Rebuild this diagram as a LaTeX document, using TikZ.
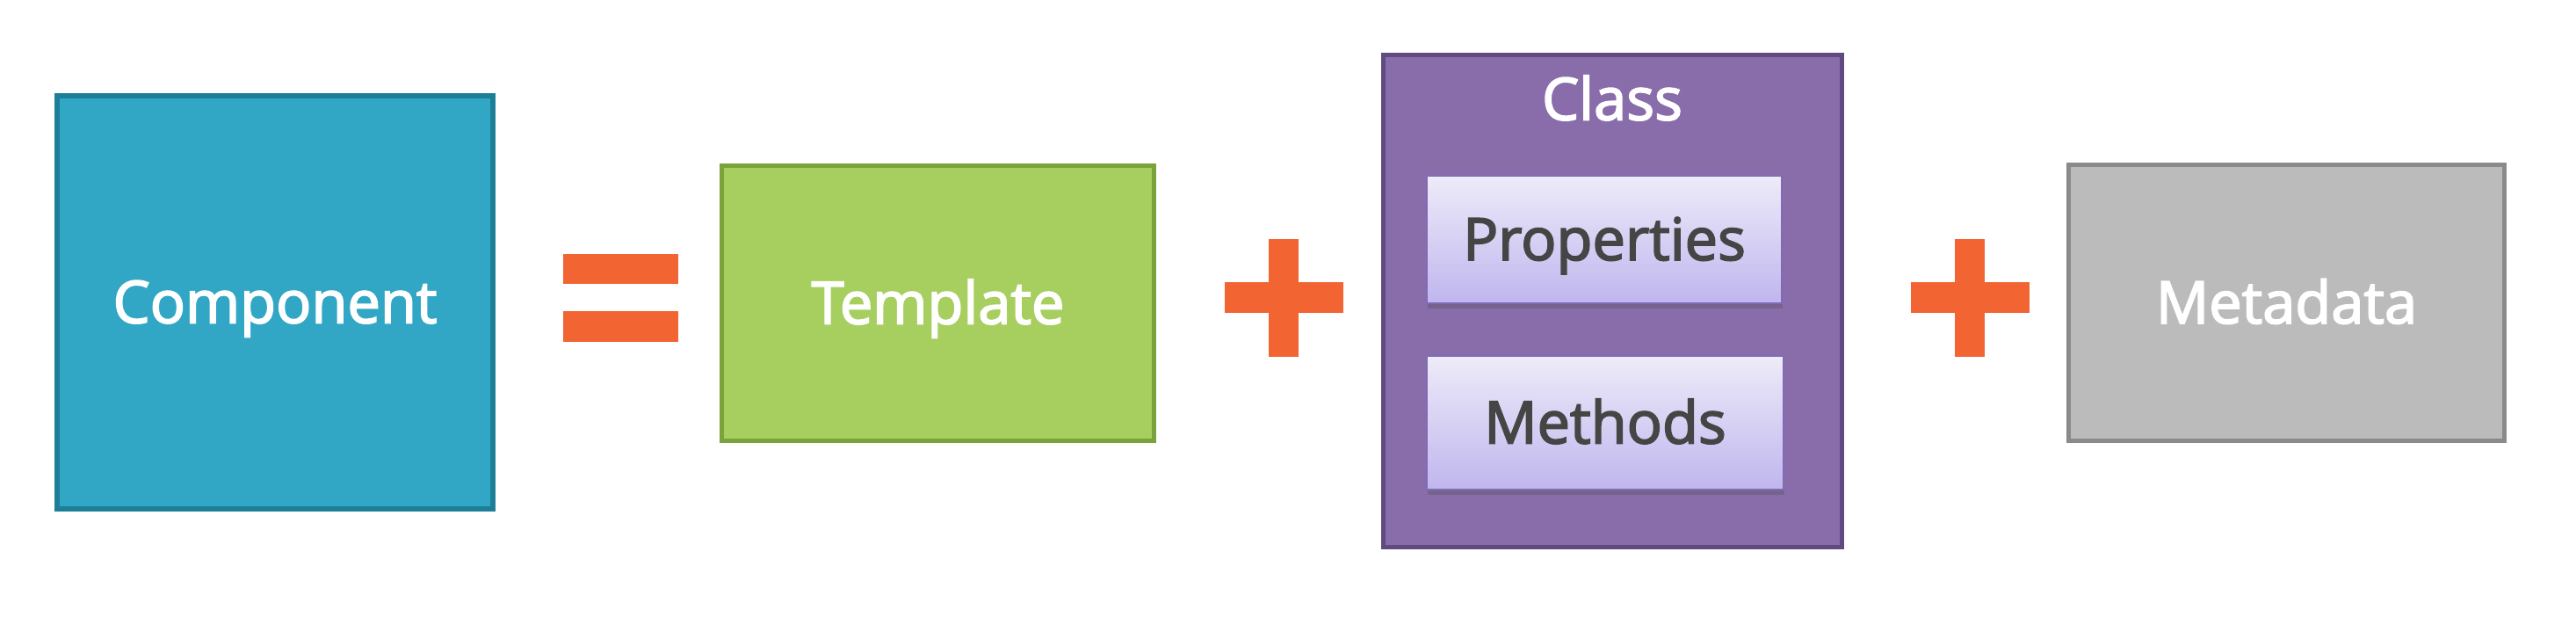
\documentclass[tikz,border=0pt]{standalone}
\usepackage{fontspec}
\setmainfont{Open Sans}
\newfontfamily\partfont{Open Sans}[FakeBold=2.6]
\usetikzlibrary{positioning,shadows}

\definecolor{compblue}{HTML}{32A7C5}
\definecolor{compedge}{HTML}{1D7F97}
\definecolor{tmplgreen}{HTML}{A7CF5F}
\definecolor{tmpledge}{HTML}{7BA33B}
\definecolor{classpurple}{HTML}{896DAA}
\definecolor{classedge}{HTML}{5F4A82}
\definecolor{membertop}{HTML}{EEEBF9}
\definecolor{memberbot}{HTML}{C0B6EE}
\definecolor{memberedge}{HTML}{7F6CB5}
\definecolor{metagray}{HTML}{BBBBBB}
\definecolor{metaedge}{HTML}{8A8A8A}
\definecolor{signorange}{HTML}{F26532}
\definecolor{inktext}{HTML}{454545}

\tikzset{
  part/.style={draw, rectangle, inner sep=0pt, line width=0.05cm,
    font=\partfont\fontsize{19}{22}\selectfont, text=white,
    text height=0.47cm, text depth=0pt},
  member/.style={part, draw=memberedge, line width=0.02cm, text=inktext,
    top color=membertop, bottom color=memberbot,
    drop shadow={shadow xshift=0.3pt, shadow yshift=-1.8pt, opacity=0.3, fill=black!70}},
}

\begin{document}
\begin{tikzpicture}
        \useasboundingbox (0,0) rectangle (29.32,-7.02);

        % Component
        \node[part, fill=compblue, draw=compedge, line width=0.06cm,
              minimum width=4.96cm, minimum height=4.70cm] (component) at (3.13,-3.44) {Component};

        % =
        \fill[signorange] (6.41,-2.89) rectangle (7.72,-3.23);
        \fill[signorange] (6.41,-3.54) rectangle (7.72,-3.89);

        % Template
        \node[part, fill=tmplgreen, draw=tmpledge,
              minimum width=4.92cm, minimum height=3.13cm] (template) at (10.675,-3.45) {Template};

        % + signs
        \foreach \px in {14.61, 22.42} {
            \fill[signorange] (\px-0.17,-2.72) rectangle (\px+0.17,-4.06);
            \fill[signorange] (\px-0.675,-3.21) rectangle (\px+0.675,-3.56);
        }

        % Class
        \node[part, fill=classpurple, draw=classedge,
              minimum width=5.22cm, minimum height=5.60cm] (class) at (18.355,-3.425) {};
        \node[part, draw=none, anchor=south] (classlabel) at (18.35,-1.39) {Class};
        \node[member, minimum width=4.04cm, minimum height=1.45cm] (props) at (18.26,-2.725) {Properties};
        \node[member, minimum width=4.06cm, minimum height=1.52cm] (methods) at (18.27,-4.81) {Methods};

        % Metadata
        \node[part, fill=metagray, draw=metaedge,
              minimum width=4.96cm, minimum height=3.14cm] (metadata) at (26.025,-3.445) {Metadata};
    \end{tikzpicture}
\end{document}
